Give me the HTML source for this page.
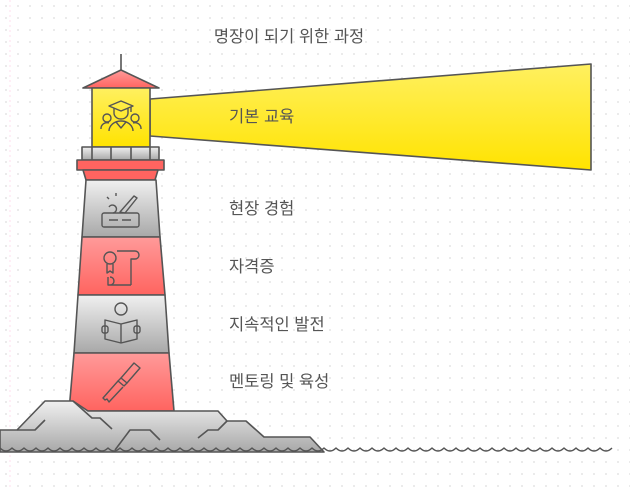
<!DOCTYPE html>
<html><head><meta charset="utf-8"><style>
body{margin:0;width:630px;height:490px;background:#fff;overflow:hidden}
svg{display:block}
text{font-family:"Liberation Sans","Noto Sans CJK KR",sans-serif;fill:#555;font-size:16.5px}
</style></head><body>
<svg width="630" height="490" viewBox="0 0 630 490">
<defs>
<pattern id="dots" width="12" height="12" patternUnits="userSpaceOnUse"><circle cx="6" cy="6" r="0.9" fill="#ddd"/></pattern>
<linearGradient id="y" x1="0" y1="0" x2="0" y2="1"><stop offset="0" stop-color="#fff060"/><stop offset="1" stop-color="#ffe300"/></linearGradient>
<linearGradient id="r" x1="0" y1="0" x2="0" y2="1"><stop offset="0" stop-color="#ff9a9a"/><stop offset="1" stop-color="#ff6460"/></linearGradient>
<linearGradient id="g" x1="0" y1="0" x2="0" y2="1"><stop offset="0" stop-color="#f0f0f0"/><stop offset="1" stop-color="#a8a8a8"/></linearGradient>
</defs>
<rect width="630" height="490" fill="url(#dots)"/>
<line x1="10" y1="0" x2="10" y2="490" stroke="#fde" stroke-width="1" stroke-dasharray="2 3"/>
<text x="289" y="42" text-anchor="middle">명장이 되기 위한 과정</text>
<g stroke="#555" stroke-width="1.6" stroke-linejoin="round">
<polygon points="150,99 591,64 591,170 150,136" fill="url(#y)"/>
<line x1="121" y1="54" x2="121" y2="70"/>
<polygon points="121,70 83,88 159,88" fill="url(#r)"/>
<rect x="92" y="88" width="58" height="59" fill="url(#y)"/>
<rect x="82" y="147" width="77" height="13" fill="url(#g)"/>
<line x1="92" y1="147" x2="92" y2="160"/><line x1="111" y1="147" x2="111" y2="160"/><line x1="131" y1="147" x2="131" y2="160"/><line x1="150" y1="147" x2="150" y2="160"/>
<rect x="77" y="160" width="87" height="10" fill="#ff6460"/>
<polygon points="83,170 158,170 155,180 86,180" fill="#ff6460"/>
<polygon points="86,180 156,180 160,237 82,237" fill="url(#g)"/>
<polygon points="82,237 160,237 165,295 78,295" fill="url(#r)"/>
<polygon points="78,295 165,295 169,353 74,353" fill="url(#g)"/>
<polygon points="74,353 169,353 174,411 69,411" fill="url(#r)"/>
<polygon points="0,452 0,430 17,430 45,401 73,401 88,411 218,411 227,421 246,421 264,437 310,437 324,452" fill="url(#g)"/>
<g fill="none">
<polyline points="17,430 35,430 45,420"/>
<polyline points="73,401 92,418 100,418 112,429"/>
<polyline points="115,450 130,430 150,430 160,440"/>
<polyline points="198,438 208,430 218,430 227,421"/>
<path stroke-width="1.4" d="M0,448 q6,6 12,0 q6,6 12,0 q6,6 12,0 q6,6 12,0 q6,6 12,0 q6,6 12,0 q6,6 12,0 q6,6 12,0 q6,6 12,0 q6,6 12,0 q6,6 12,0 q6,6 12,0 q6,6 12,0 q6,6 12,0 q6,6 12,0 q6,6 12,0 q6,6 12,0 q6,6 12,0 q6,6 12,0 q6,6 12,0 q6,6 12,0 q6,6 12,0 q6,6 12,0 q6,6 12,0 q6,6 12,0 q6,6 12,0 q6,6 12,0 q6,6 12,0 q6,6 12,0 q6,6 12,0 q6,6 12,0 q6,6 12,0 q6,6 12,0 q6,6 12,0 q6,6 12,0 q6,6 12,0 q6,6 12,0 q6,6 12,0 q6,6 12,0 q6,6 12,0 q6,6 12,0 q6,6 12,0 q6,6 12,0 q6,6 12,0 q6,6 12,0 q6,6 12,0 q6,6 12,0 q6,6 12,0 q6,6 12,0 q6,6 12,0 q6,6 12,0"/>
</g>
<g fill="none" stroke-width="1.4">
<polygon points="121,101 109,106 121,111 133,106"/><path d="M114,108 v5 a7,6 0 0 0 14,0 v-5 M131,107 v5"/>
<path d="M109,131 a12,10 0 0 1 24,0 M116,122 l5,6 l5,-6"/><circle cx="107" cy="118" r="4"/><circle cx="135" cy="118" r="4"/>
<path d="M101,129 a6,6 0 0 1 8,-6 M141,129 a6,6 0 0 0 -8,-6"/>
<rect x="102" y="213" width="37" height="14" rx="2"/><path d="M109,220 h9 M122,220 h9"/>
<path d="M120,212 l14,-16 l3,2 l-12,15 z"/><path d="M109,207 a4,4 0 1 1 4,6"/><path d="M107,197 l2,2 M116,193 l0,3"/>
<circle cx="110" cy="258" r="6"/><path d="M107,264 v9 l3,-2 l3,2 v-9"/><path d="M117,251 h18 a4,4 0 0 1 0,8 h-4 v26 M108,277 v8 h23 M110,285 a4,4 0 0 0 0,-8"/>
<circle cx="121" cy="309" r="6"/><path d="M105,320 l16,4 l16,-4 v19 l-16,4 l-16,-4 z M121,324 v19"/><rect x="102" y="326" width="6" height="7" rx="2"/><rect x="134" y="326" width="6" height="7" rx="2"/>
<path d="M134,363 l6,5 l-13,15 l-6,-5 z"/><path d="M121,378 l-3,3 l6,5 l3,-3"/><path d="M118,381 l-15,17 l2,2 l2,-1 l2,3 l14,-15"/>
</g>
</g>
<text x="229" y="122">기본 교육</text>
<text x="229" y="214">현장 경험</text>
<text x="229" y="272">자격증</text>
<text x="229" y="330">지속적인 발전</text>
<text x="229" y="387">멘토링 및 육성</text>
</svg>
</body></html>
